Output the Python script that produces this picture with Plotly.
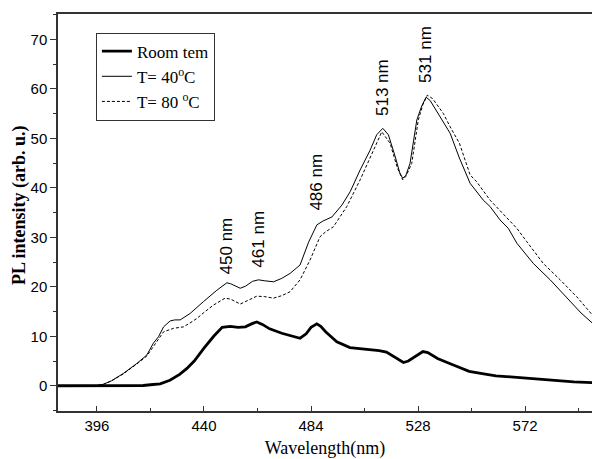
import plotly.graph_objects as go

# ---- data ----
room_x = [380, 400, 410, 415, 418, 422, 426, 430, 433, 436, 440, 444, 447.5, 450.8, 454, 457, 460, 461.7,
          464, 467, 472, 476, 479.5, 482, 484, 486.4, 488, 490, 494.6, 500, 504, 508, 512, 515, 518, 522,
          524, 527, 530, 532, 536, 542, 549, 555, 560, 566, 571, 578, 585, 592, 600]
room_y = [0, 0, 0, 0.05, 0.2, 0.4, 1.1, 2.3, 3.5, 5.0, 7.6, 10.0, 11.8, 12.0, 11.8, 11.9, 12.6, 12.9,
          12.4, 11.5, 10.6, 10.0, 9.6, 10.5, 11.8, 12.5, 12.0, 10.9, 8.9, 7.7, 7.5, 7.4, 7.1, 6.8, 5.9, 4.7,
          5.0, 6.0, 6.9, 6.7, 5.5, 4.3, 2.9, 2.4, 2.0, 1.8, 1.6, 1.3, 1.0, 0.8, 0.6]

t40_x = [380, 390, 396, 398.7, 402, 406.9, 410, 412.4, 416.5, 419.2, 421.3, 423.4, 426.1, 428, 430.2,
         434.3, 439.8, 445.3, 449.4, 451, 454.9, 457, 460, 462.4, 465, 468.6, 472, 475.4, 479.5, 480.9,
         483, 486.4, 489, 492.6, 496.7, 500.1, 504.2, 508.3, 511.0, 513.5, 515.8, 518.6, 520.5, 521.7,
         523, 524.7, 527.5, 529.5, 531.3, 533, 537.1, 541.2, 545, 549.4, 554.8, 557.6, 561.7, 565.1,
         568.6, 575.4, 582.3, 589.1, 595, 600]
t40_y = [0, 0, 0.05, 0.3, 1.0, 2.5, 3.6, 4.5, 6.2, 8.6, 9.9, 11.9, 13.1, 13.3, 13.3,
         14.6, 17.0, 19.3, 20.8, 20.6, 19.7, 20.1, 21.1, 21.4, 21.2, 21.0, 21.7, 22.7, 24.4, 26.1,
         29.0, 32.5, 33.3, 34.1, 36.5, 39.2, 43.6, 47.6, 50.7, 52.0, 50.7, 46.3, 43.0, 41.9,
         42.5, 44.9, 53.7, 56.5, 58.3, 57.6, 54.4, 51.0, 46.0, 40.9, 37.5, 36.2, 33.5, 31.8,
         28.8, 24.7, 21.4, 17.7, 14.7, 12.5]

t80_x = [380, 390, 396, 398.7, 402, 406.9, 410, 412.4, 416.5, 419.2, 421.3, 423.4, 427.5, 431.6, 434,
         437.1, 440, 443.9, 448.7, 451, 454.9, 458, 461.7, 465, 468.6, 472, 475.4, 479.5, 483.6, 487.7,
         490, 493.2, 498.7, 504.2, 509.6, 513.1, 516.5, 519.5, 521.7, 523, 525.4, 528.1, 530, 531.8,
         534, 538.4, 541.2, 545, 549.4, 552.1, 557.6, 564.4, 568.6, 572.7, 579.5, 586.4, 593.2, 600]
t80_y = [0, 0, 0.05, 0.3, 1.0, 2.4, 3.5, 4.4, 6.0, 8.0, 9.6, 10.9, 11.6, 11.9, 12.6,
         13.6, 14.8, 16.3, 17.7, 17.5, 16.5, 17.2, 18.1, 18.0, 17.7, 18.2, 19.0, 21.4, 25.4, 30.1,
         31.1, 32.1, 36.2, 41.6, 47.6, 51.3, 49.0, 44.0, 41.6, 42.3, 44.9, 53.7, 56.8, 58.7,
         58.0, 55.0, 52.3, 49.0, 42.6, 41.2, 37.5, 34.1, 31.8, 29.1, 24.7, 21.4, 18.0, 14.1]

peak_labels = ["450 nm", "461 nm", "486 nm", "513 nm", "531 nm"]
peak_x = [449.1, 462.3, 486.1, 513.4, 531.1]
peak_y = [22.0, 23.4, 34.9, 54.1, 60.8]

x_ticks = [396, 440, 484, 528, 572]
y_ticks = [0, 10, 20, 30, 40, 50, 60, 70]

SERIF = "Liberation Serif, Times New Roman, serif"
SANS = "Liberation Sans, Arial, sans-serif"

fig = go.Figure()
fig.add_trace(go.Scatter(x=room_x, y=room_y, mode="lines", name="Room tem",
                         line=dict(color="black", width=2.8), legendgroup="a"))
fig.add_trace(go.Scatter(x=t40_x, y=t40_y, mode="lines", name="T= 40<sup>o</sup>C",
                         line=dict(color="black", width=1), legendgroup="b"))
fig.add_trace(go.Scatter(x=t80_x, y=t80_y, mode="lines", name="T= 80 <sup>o</sup>C",
                         line=dict(color="black", width=1, dash="3px,2px"), legendgroup="c"))

for lab, px_, py_ in zip(peak_labels, peak_x, peak_y):
    fig.add_annotation(x=px_, y=py_, text=lab, textangle=-90, showarrow=False,
                       xanchor="center", yanchor="bottom",
                       font=dict(family=SANS, size=17, color="black"))

# y-axis title placed as a rotated annotation (slightly above the axis centre, as in the reference)
fig.add_annotation(x=-0.0712, y=0.519, xref="paper", yref="paper", text="<b>PL intensity (arb. u.)</b>",
                   textangle=-90, showarrow=False, xanchor="center", yanchor="middle",
                   font=dict(family=SERIF, size=18, color="black"))

fig.update_layout(
    width=592, height=459,
    margin=dict(l=58, r=0, t=14, b=48),
    paper_bgcolor="white", plot_bgcolor="white",
    showlegend=True,
    legend=dict(x=0.071, y=0.953, xanchor="left", yanchor="top",
                bordercolor="#333", borderwidth=1, bgcolor="white",
                font=dict(family=SERIF, size=17, color="black"),
                tracegroupgap=3, traceorder="normal"),
    xaxis=dict(range=[380, 599.5], tickvals=x_ticks, ticks="inside", ticklen=5, tickwidth=1,
               tickcolor="#333",
               minor=dict(dtick=22, tick0=374, ticks="inside", ticklen=3, tickcolor="#333"),
               showline=True, linecolor="#333", linewidth=1.5, mirror=True,
               showgrid=False, zeroline=False,
               tickfont=dict(family=SANS, size=15, color="black"),
               title=dict(text="Wavelength(nm)", font=dict(family=SERIF, size=18, color="black"),
                          standoff=10)),
    yaxis=dict(range=[-5.1, 75.1], tickvals=y_ticks, ticks="outside", ticklen=6, tickwidth=1,
               tickcolor="#333",
               minor=dict(dtick=5, tick0=0, ticks="outside", ticklen=3, tickcolor="#333"),
               showline=True, linecolor="#333", linewidth=1.5, mirror=False,
               showgrid=False, zeroline=False,
               tickfont=dict(family=SANS, size=15, color="black")),
)

fig.write_html("out.html")
